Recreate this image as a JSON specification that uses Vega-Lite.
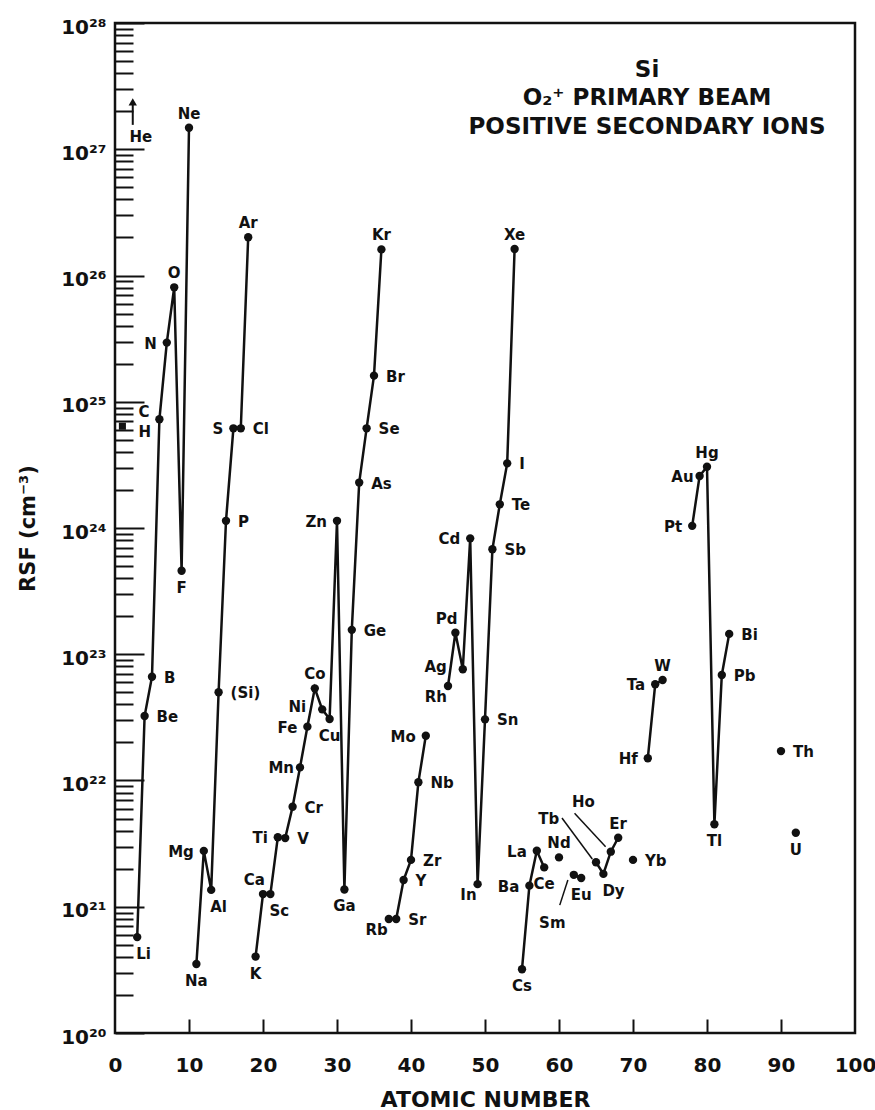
{
  "$schema": "https://vega.github.io/schema/vega-lite/v6.json",
  "width": 740,
  "height": 1010,
  "autosize": {"type": "none"},
  "padding": {"left": 115, "top": 23, "right": 20, "bottom": 77},
  "background": "white",
  "config": {
    "view": {"stroke": "#111", "strokeWidth": 2.5},
    "text": {"font": "DejaVu Sans", "fontWeight": "bold", "fontSize": 15, "color": "#111"}
  },
  "datasets": {
    "el": [
      {"el": "H", "z": 1, "rsf": 6.4e24, "series": "H"},
      {"el": "Li", "z": 3, "rsf": 5.75e20, "series": "s1"},
      {"el": "Be", "z": 4, "rsf": 3.24e22, "series": "s1"},
      {"el": "B", "z": 5, "rsf": 6.64e22, "series": "s1"},
      {"el": "C", "z": 6, "rsf": 7.26e24, "series": "s1"},
      {"el": "N", "z": 7, "rsf": 2.94e25, "series": "s1"},
      {"el": "O", "z": 8, "rsf": 8.06e25, "series": "s1"},
      {"el": "F", "z": 9, "rsf": 4.59e23, "series": "s1"},
      {"el": "Ne", "z": 10, "rsf": 1.48e27, "series": "s1"},
      {"el": "Na", "z": 11, "rsf": 3.52e20, "series": "s2"},
      {"el": "Mg", "z": 12, "rsf": 2.77e21, "series": "s2"},
      {"el": "Al", "z": 13, "rsf": 1.36e21, "series": "s2"},
      {"el": "(Si)", "z": 14, "rsf": 5.0e22, "series": "s2"},
      {"el": "P", "z": 15, "rsf": 1.14e24, "series": "s2"},
      {"el": "S", "z": 16, "rsf": 6.16e24, "series": "s2"},
      {"el": "Cl", "z": 17, "rsf": 6.16e24, "series": "s2"},
      {"el": "Ar", "z": 18, "rsf": 2.01e26, "series": "s2"},
      {"el": "K", "z": 19, "rsf": 4.03e20, "series": "s3"},
      {"el": "Ca", "z": 20, "rsf": 1.26e21, "series": "s3"},
      {"el": "Sc", "z": 21, "rsf": 1.26e21, "series": "s3"},
      {"el": "Ti", "z": 22, "rsf": 3.55e21, "series": "s3"},
      {"el": "V", "z": 23, "rsf": 3.5e21, "series": "s3"},
      {"el": "Cr", "z": 24, "rsf": 6.2e21, "series": "s3"},
      {"el": "Mn", "z": 25, "rsf": 1.27e22, "series": "s3"},
      {"el": "Fe", "z": 26, "rsf": 2.67e22, "series": "s3"},
      {"el": "Co", "z": 27, "rsf": 5.37e22, "series": "s3"},
      {"el": "Ni", "z": 28, "rsf": 3.66e22, "series": "s3"},
      {"el": "Cu", "z": 29, "rsf": 3.07e22, "series": "s3"},
      {"el": "Zn", "z": 30, "rsf": 1.14e24, "series": "s3"},
      {"el": "Ga", "z": 31, "rsf": 1.37e21, "series": "s3"},
      {"el": "Ge", "z": 32, "rsf": 1.56e23, "series": "s3"},
      {"el": "As", "z": 33, "rsf": 2.29e24, "series": "s3"},
      {"el": "Se", "z": 34, "rsf": 6.16e24, "series": "s3"},
      {"el": "Br", "z": 35, "rsf": 1.61e25, "series": "s3"},
      {"el": "Kr", "z": 36, "rsf": 1.61e26, "series": "s3"},
      {"el": "Rb", "z": 37, "rsf": 8.0e20, "series": "s4"},
      {"el": "Sr", "z": 38, "rsf": 8.0e20, "series": "s4"},
      {"el": "Y", "z": 39, "rsf": 1.63e21, "series": "s4"},
      {"el": "Zr", "z": 40, "rsf": 2.35e21, "series": "s4"},
      {"el": "Nb", "z": 41, "rsf": 9.7e21, "series": "s4"},
      {"el": "Mo", "z": 42, "rsf": 2.26e22, "series": "s4"},
      {"el": "Rh", "z": 45, "rsf": 5.6e22, "series": "s5"},
      {"el": "Pd", "z": 46, "rsf": 1.48e23, "series": "s5"},
      {"el": "Ag", "z": 47, "rsf": 7.6e22, "series": "s5"},
      {"el": "Cd", "z": 48, "rsf": 8.28e23, "series": "s5"},
      {"el": "In", "z": 49, "rsf": 1.51e21, "series": "s5"},
      {"el": "Sn", "z": 50, "rsf": 3.05e22, "series": "s5"},
      {"el": "Sb", "z": 51, "rsf": 6.78e23, "series": "s5"},
      {"el": "Te", "z": 52, "rsf": 1.54e24, "series": "s5"},
      {"el": "I", "z": 53, "rsf": 3.25e24, "series": "s5"},
      {"el": "Xe", "z": 54, "rsf": 1.62e26, "series": "s5"},
      {"el": "Cs", "z": 55, "rsf": 3.2e20, "series": "s6"},
      {"el": "Ba", "z": 56, "rsf": 1.47e21, "series": "s6"},
      {"el": "La", "z": 57, "rsf": 2.78e21, "series": "s6"},
      {"el": "Ce", "z": 58, "rsf": 2.05e21, "series": "s6"},
      {"el": "Nd", "z": 60, "rsf": 2.46e21, "series": "Nd"},
      {"el": "Sm", "z": 62, "rsf": 1.79e21, "series": "s7"},
      {"el": "Eu", "z": 63, "rsf": 1.69e21, "series": "s7"},
      {"el": "Tb", "z": 65, "rsf": 2.25e21, "series": "s8"},
      {"el": "Dy", "z": 66, "rsf": 1.82e21, "series": "s8"},
      {"el": "Ho", "z": 67, "rsf": 2.73e21, "series": "s8"},
      {"el": "Er", "z": 68, "rsf": 3.52e21, "series": "s8"},
      {"el": "Yb", "z": 70, "rsf": 2.35e21, "series": "Yb"},
      {"el": "Hf", "z": 72, "rsf": 1.5e22, "series": "s9"},
      {"el": "Ta", "z": 73, "rsf": 5.78e22, "series": "s9"},
      {"el": "W", "z": 74, "rsf": 6.25e22, "series": "s9"},
      {"el": "Pt", "z": 78, "rsf": 1.04e24, "series": "s10"},
      {"el": "Au", "z": 79, "rsf": 2.58e24, "series": "s10"},
      {"el": "Hg", "z": 80, "rsf": 3.06e24, "series": "s10"},
      {"el": "Tl", "z": 81, "rsf": 4.5e21, "series": "s10"},
      {"el": "Pb", "z": 82, "rsf": 6.85e22, "series": "s10"},
      {"el": "Bi", "z": 83, "rsf": 1.45e23, "series": "s10"},
      {"el": "Th", "z": 90, "rsf": 1.71e22, "series": "Th"},
      {"el": "U", "z": 92, "rsf": 3.86e21, "series": "U"}
    ],
    "notes": [
      {"t": "He", "z": 3.5, "rsf": 1.26e27},
      {"t": "Sm", "z": 59.1, "rsf": 7.43e20},
      {"t": "Tb", "z": 58.6, "rsf": 4.95e21},
      {"t": "Ho", "z": 63.3, "rsf": 6.76e21}
    ],
    "leaders": [
      {"z": 60.1, "rsf": 1.03e21, "z2": 61.2, "rsf2": 1.63e21},
      {"z": 60.4, "rsf": 5.05e21, "z2": 64.5, "rsf2": 2.39e21},
      {"z": 62.1, "rsf": 5.5e21, "z2": 66.3, "rsf2": 2.99e21}
    ],
    "arrow": [
      {"z": 2.4, "rsf": 1.56e27, "z2": 2.4, "rsf2": 2.3e27}
    ],
    "arrowhead": [
      {"z": 2.4, "rsf": 2.37e27}
    ],
    "heading": [
      {"t": "Si", "z": 71.9, "rsf": 4.25e27},
      {"t": "O₂⁺ PRIMARY BEAM", "z": 71.9, "rsf": 2.55e27},
      {"t": "POSITIVE SECONDARY IONS", "z": 71.9, "rsf": 1.5e27}
    ]
  },
  "encoding": {
    "x": {
      "field": "z",
      "type": "quantitative",
      "scale": {"domain": [0, 100], "nice": false, "zero": false},
      "axis": {
        "title": "ATOMIC NUMBER",
        "values": [0, 10, 20, 30, 40, 50, 60, 70, 80, 90, 100],
        "format": "d",
        "domain": false,
        "grid": false,
        "tickSize": -14,
        "tickWidth": 2,
        "tickColor": "#111",
        "tickOpacity": {"condition": {"test": "datum.value == 0 || datum.value == 100", "value": 0}, "value": 1},
        "labelFont": "DejaVu Sans",
        "labelFontWeight": "bold",
        "labelFontSize": 20,
        "labelColor": "#111",
        "labelPadding": 36,
        "labelFlush": false,
        "labelOverlap": false,
        "labelBound": false,
        "titleFont": "DejaVu Sans",
        "titleFontWeight": "bold",
        "titleFontSize": 22,
        "titleColor": "#111",
        "titleY": 73,
        "titleBaseline": "alphabetic"
      }
    },
    "y": {
      "field": "rsf",
      "type": "quantitative",
      "scale": {"type": "log", "domain": [1e20, 1e28], "nice": false},
      "axis": {
        "title": "RSF (cm⁻³)",
        "values": [1e20, 2e20, 3e20, 4e20, 5e20, 6e20, 7e20, 8e20, 9e20,
                   1e21, 2e21, 3e21, 4e21, 5e21, 6e21, 7e21, 8e21, 9e21,
                   1e22, 2e22, 3e22, 4e22, 5e22, 6e22, 7e22, 8e22, 9e22,
                   1e23, 2e23, 3e23, 4e23, 5e23, 6e23, 7e23, 8e23, 9e23,
                   1e24, 2e24, 3e24, 4e24, 5e24, 6e24, 7e24, 8e24, 9e24,
                   1e25, 2e25, 3e25, 4e25, 5e25, 6e25, 7e25, 8e25, 9e25,
                   1e26, 2e26, 3e26, 4e26, 5e26, 6e26, 7e26, 8e26, 9e26,
                   1e27, 2e27, 3e27, 4e27, 5e27, 6e27, 7e27, 8e27, 9e27,
                   1e28],
        "labelExpr": "abs(log(datum.value)/LN10 - round(log(datum.value)/LN10)) < 0.01 ? '10' + ['²⁰','²¹','²²','²³','²⁴','²⁵','²⁶','²⁷','²⁸'][round(log(datum.value)/LN10) - 20] : ''",
        "domain": false,
        "grid": false,
        "tickSize": {"condition": {"test": "abs(log(datum.value)/LN10 - round(log(datum.value)/LN10)) < 0.01", "value": -29}, "value": -18},
        "tickWidth": 2,
        "tickColor": "#111",
        "labelFont": "DejaVu Sans",
        "labelFontWeight": "bold",
        "labelFontSize": 20,
        "labelColor": "#111",
        "labelPadding": 38,
        "labelOffset": 4,
        "labelFlush": false,
        "labelOverlap": false,
        "labelBound": false,
        "titleFont": "DejaVu Sans",
        "titleFontWeight": "bold",
        "titleFontSize": 21,
        "titleColor": "#111",
        "titleX": -87,
        "titleY": 505,
        "titleAngle": 270,
        "titleAlign": "center",
        "titleBaseline": "middle"
      }
    }
  },
  "layer": [
    {
      "data": {"name": "leaders"},
      "mark": {"type": "rule", "strokeWidth": 1.5, "color": "#111"},
      "encoding": {"x2": {"field": "z2"}, "y2": {"field": "rsf2"}}
    },
    {
      "data": {"name": "arrow"},
      "mark": {"type": "rule", "strokeWidth": 2, "color": "#111"},
      "encoding": {"x2": {"field": "z2"}, "y2": {"field": "rsf2"}}
    },
    {
      "data": {"name": "arrowhead"},
      "mark": {"type": "point", "shape": "triangle-up", "filled": true, "size": 70, "opacity": 1, "color": "#111"}
    },
    {
      "data": {"name": "el"},
      "transform": [{"filter": {"field": "series", "oneOf": ["s1", "s2", "s3", "s4", "s5", "s6", "s7", "s8", "s9", "s10"]}}],
      "mark": {"type": "line", "strokeWidth": 2.5, "color": "#111"},
      "encoding": {"detail": {"field": "series"}, "order": {"field": "z", "type": "quantitative"}}
    },
    {
      "data": {"name": "el"},
      "transform": [{"filter": "datum.el != 'H'"}],
      "mark": {"type": "circle", "size": 70, "opacity": 1, "color": "#111"}
    },
    {
      "data": {"name": "el"},
      "transform": [{"filter": "datum.el == 'H'"}],
      "mark": {"type": "square", "size": 50, "opacity": 1, "color": "#111"}
    },
    {
      "data": {"name": "el"},
      "transform": [{"filter": {"field": "el", "oneOf": ["Be", "B", "(Si)", "P", "Cl", "V", "Cr", "Ge", "As", "Se", "Br", "Sr", "Y", "Zr", "Nb", "Sn", "Sb", "Te", "I", "Yb", "Pb", "Bi", "Th"]}}],
      "mark": {"type": "text", "align": "left", "baseline": "middle", "dx": 12, "dy": 1},
      "encoding": {"text": {"field": "el"}}
    },
    {
      "data": {"name": "el"},
      "transform": [{"filter": {"field": "el", "oneOf": ["N", "S", "Mg", "Zn", "Mo", "Cd", "Ba", "La", "Hf", "Ta", "Pt", "Fe", "Ti"]}}],
      "mark": {"type": "text", "align": "right", "baseline": "middle", "dx": -10, "dy": 1},
      "encoding": {"text": {"field": "el"}}
    },
    {
      "data": {"name": "el"},
      "transform": [{"filter": {"field": "el", "oneOf": ["Mn", "Au"]}}],
      "mark": {"type": "text", "align": "right", "baseline": "middle", "dx": -6, "dy": 1},
      "encoding": {"text": {"field": "el"}}
    },
    {
      "data": {"name": "el"},
      "transform": [{"filter": {"field": "el", "oneOf": ["Ni", "Ag"]}}],
      "mark": {"type": "text", "align": "right", "baseline": "middle", "dx": -16, "dy": -2},
      "encoding": {"text": {"field": "el"}}
    },
    {
      "data": {"name": "el"},
      "transform": [{"filter": {"field": "el", "oneOf": ["O", "Ne", "Ar", "Kr", "Xe", "Co", "Nd", "W", "Er", "Hg"]}}],
      "mark": {"type": "text", "align": "center", "baseline": "middle", "dy": -14},
      "encoding": {"text": {"field": "el"}}
    },
    {
      "data": {"name": "el"},
      "transform": [{"filter": {"field": "el", "oneOf": ["F", "Na", "K", "Ga", "Cs", "Tl", "U", "Cu", "Eu", "Ce"]}}],
      "mark": {"type": "text", "align": "center", "baseline": "middle", "dy": 17},
      "encoding": {"text": {"field": "el"}}
    },
    {
      "data": {"name": "el"},
      "transform": [{"filter": {"field": "el", "oneOf": ["Li", "Al", "Sc", "Dy"]}}],
      "mark": {"type": "text", "align": "left", "baseline": "middle", "dx": -1, "dy": 17},
      "encoding": {"text": {"field": "el"}}
    },
    {
      "data": {"name": "el"},
      "transform": [{"filter": {"field": "el", "oneOf": ["Rb", "Rh", "In"]}}],
      "mark": {"type": "text", "align": "right", "baseline": "middle", "dx": -1, "dy": 11},
      "encoding": {"text": {"field": "el"}}
    },
    {
      "data": {"name": "el"},
      "transform": [{"filter": {"field": "el", "oneOf": ["Ca", "Pd"]}}],
      "mark": {"type": "text", "align": "right", "baseline": "middle", "dx": 2, "dy": -14},
      "encoding": {"text": {"field": "el"}}
    },
    {
      "data": {"name": "el"},
      "transform": [{"filter": "datum.el == 'C'"}],
      "mark": {"type": "text", "align": "right", "baseline": "middle", "dx": -10, "dy": -7},
      "encoding": {"text": {"field": "el"}}
    },
    {
      "data": {"name": "el"},
      "transform": [{"filter": "datum.el == 'H'"}],
      "mark": {"type": "text", "align": "left", "baseline": "middle", "dx": 16, "dy": 6},
      "encoding": {"text": {"field": "el"}}
    },
    {
      "data": {"name": "notes"},
      "mark": {"type": "text", "align": "center", "baseline": "middle"},
      "encoding": {"text": {"field": "t"}}
    },
    {
      "data": {"name": "heading"},
      "mark": {"type": "text", "align": "center", "baseline": "middle", "fontSize": 23},
      "encoding": {"text": {"field": "t"}}
    }
  ]
}
